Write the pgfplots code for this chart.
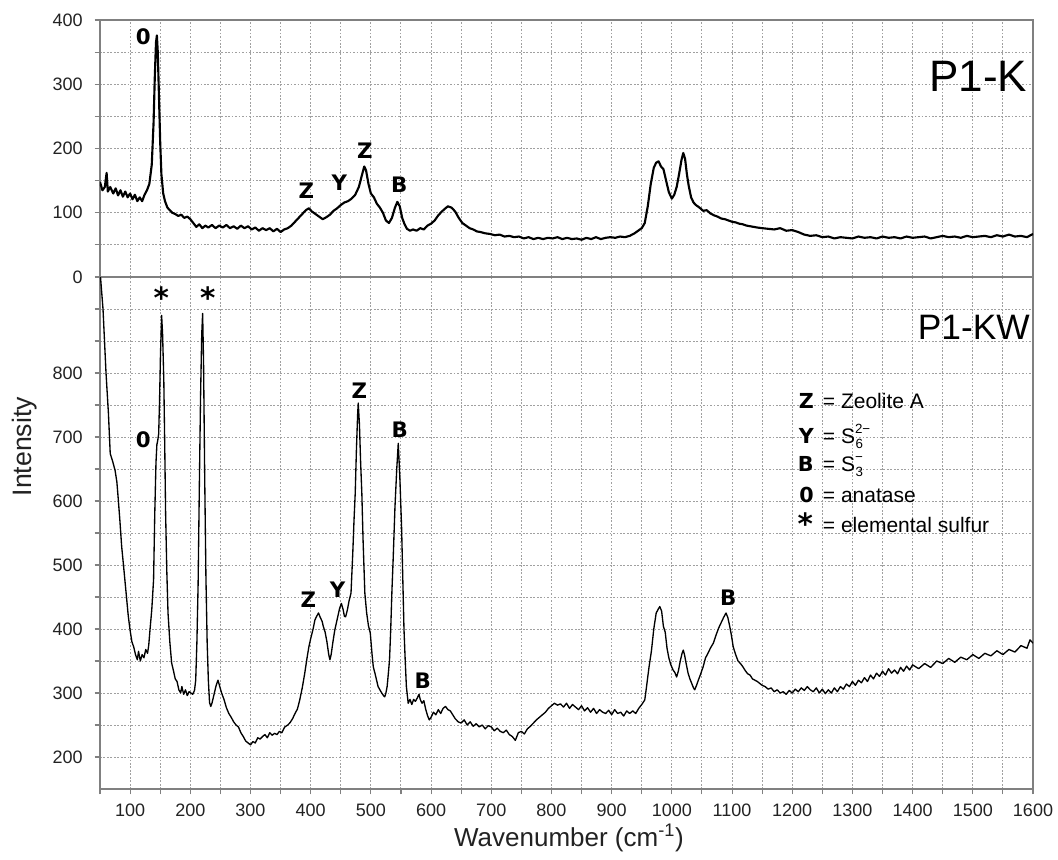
\documentclass[border=0pt]{standalone}
\usepackage{fontspec}
\setmainfont{Liberation Sans}
\newfontfamily\heavy{DejaVu Sans}
\usepackage{pgfplots}
\pgfplotsset{compat=1.18}
\definecolor{axgray}{HTML}{808080}
\definecolor{gridgray}{HTML}{A0A0A0}
\definecolor{txt}{HTML}{222222}

\pgfplotstableread{
x y
50 148
54 135
58 140
61 162
63 133
67 140
72 130
76 138
80 127
84 135
88 125
92 133
96 124
100 130
104 121
108 128
112 118
116 124
120 118
124 128
128 135
132 145
136 175
139 240
141 310
143 365
144.5 376
146 350
148 280
150 210
152 160
155 130
158 118
162 108
166 104
170 100
175 98
180 95
185 97
190 92
195 94
200 90
205 84
210 78
215 82
220 76
225 80
230 77
236 81
242 76
248 80
254 77
260 81
266 76
272 79
278 75
284 80
290 76
296 79
302 74
308 77
314 72
320 76
326 73
332 76
338 71
344 75
350 70
356 74
362 76
368 80
374 86
380 92
386 98
392 104
397 107
402 102
408 98
414 94
420 90
426 93
432 97
438 103
444 107
450 112
456 116
462 118
468 122
474 128
480 140
485 158
489 172
492 166
496 145
500 130
505 124
510 114
515 108
520 100
525 88
530 84
535 92
540 108
544 117
548 110
552 92
556 82
560 75
565 72
570 74
576 72
582 76
588 74
594 80
600 83
606 88
612 96
618 102
624 107
628 110
634 108
640 102
646 92
652 84
658 80
664 76
670 74
676 71
682 70
690 68
698 67
706 65
714 66
722 63
730 64
738 62
746 63
754 60
762 62
770 59
778 61
786 59
794 61
802 60
810 62
818 59
826 61
834 59
842 60
850 58
858 61
866 59
874 62
882 59
890 61
898 62
906 61
914 63
922 62
930 64
938 68
944 72
950 76
955 84
960 110
965 145
970 170
974 178
978 180
982 172
986 168
990 152
995 132
1000 122
1004 128
1008 140
1012 160
1016 182
1019 193
1022 184
1025 160
1028 142
1032 124
1036 116
1040 112
1046 108
1052 103
1058 104
1064 99
1070 96
1076 94
1082 91
1088 90
1094 88
1100 86
1106 85
1112 83
1118 82
1124 80
1130 79
1136 78
1142 77
1150 76
1160 75
1170 74
1180 76
1190 72
1200 73
1210 70
1220 66
1230 64
1240 65
1250 62
1260 63
1270 60
1280 62
1290 61
1300 60
1310 63
1320 61
1330 62
1340 60
1350 63
1360 61
1370 62
1380 60
1390 63
1400 61
1410 62
1420 63
1430 60
1440 62
1450 64
1460 62
1470 63
1480 61
1490 64
1500 62
1510 63
1520 64
1530 62
1540 65
1550 63
1560 66
1570 63
1580 64
1590 62
1600 67
}\datak

\pgfplotstableread{
x y
50 960
55 900
60 800
64 737
67 674
71 662
75 648
78 630
80 607
83 570
86 529
90 490
94 450
97 420
100 398
103 380
106 372
109 360
112 352
114 365
117 350
120 360
123 355
126 368
129 362
131 375
133 398
136 430
139 477
141 581
143 660
144.5 688
146 695
147.5 705
149 760
150.5 830
152.4 890
154 860
156 789
157.5 690
159 581
161 490
163 425
166 380
169 347
172 335
175 322
178 318
181 305
184 300
186 310
189 298
192 305
195 296
198 302
201 300
204 298
207 304
209 320
211 380
213 470
215 620
217 760
219 860
220.5 893
222 820
224 633
226 480
228 380
230 320
232 285
234 279
236 284
238 292
240 300
243 312
246 320
249 310
252 300
256 290
260 277
264 268
268 262
272 255
276 250
280 247
284 238
288 232
292 225
296 222
300 219
304 224
308 222
312 230
316 228
320 232
324 235
328 230
332 238
336 234
340 237
344 235
348 240
352 238
357 247
362 250
366 254
370 260
374 268
378 275
382 290
386 308
390 330
394 355
397 372
400 385
404 400
407 414
410 420
413 425
416 418
419 412
421 404
424 395
427 380
430 360
432 352
434 360
437 380
440 398
444 415
448 432
451 440
454 430
456 420
458 419
461 430
464 445
467 456
470 520
472 570
474 612
476 680
478 735
479 753
481 720
483 660
485 612
487 540
490 456
493 425
496 405
499 394
502 360
504 341
507 330
510 318
512 310
515 305
518 300
521 296
523 294
525 300
527 310
529 330
531 352
533 400
535 460
537 508
540 590
543 650
545.5 690
548 640
551 560
553 480
555 400
557 352
559 310
562 284
565 290
568 282
571 290
574 287
577 292
580 298
582 290
585 284
588 288
591 275
594 265
597 258
600 262
604 270
608 266
612 274
616 268
620 276
624 279
628 274
632 272
636 266
640 260
645 255
650 253
655 258
660 250
665 255
670 248
675 252
680 247
685 250
690 244
695 249
700 247
705 241
710 245
715 240
720 238
725 242
730 235
735 232
740 226
745 238
750 240
755 236
760 244
765 248
770 253
775 258
780 262
785 266
790 270
795 276
800 280
805 284
810 281
815 283
820 278
825 284
830 276
835 282
840 278
845 274
850 280
855 272
860 277
865 270
870 276
875 268
880 274
885 270
890 268
895 273
900 266
905 274
910 268
915 270
920 264
925 272
930 268
935 272
940 268
945 276
950 282
955 289
958 310
962 340
966 365
970 400
974 425
978 432
980 435
983 428
986 404
989 395
992 370
995 355
998 345
1002 336
1005 332
1008 325
1011 335
1014 350
1017 362
1019 367
1021 360
1024 345
1027 331
1030 322
1033 315
1036 308
1038 305
1041 312
1044 320
1048 330
1052 341
1056 355
1060 362
1064 370
1069 378
1074 392
1078 402
1082 410
1086 418
1090 425
1093 418
1096 405
1099 390
1102 372
1106 360
1110 350
1114 346
1118 341
1122 335
1126 330
1130 328
1134 322
1138 320
1142 318
1146 315
1150 312
1155 310
1160 306
1165 308
1170 302
1175 305
1180 300
1185 302
1190 298
1195 304
1200 300
1205 306
1210 302
1215 308
1220 304
1225 310
1230 305
1235 302
1240 308
1245 300
1250 306
1255 299
1260 305
1265 300
1270 308
1275 302
1280 310
1285 306
1290 314
1295 310
1300 318
1305 312
1310 320
1315 316
1320 324
1325 318
1330 328
1335 322
1340 331
1345 326
1350 334
1355 328
1360 338
1365 331
1370 336
1375 330
1380 340
1385 334
1390 342
1395 336
1400 344
1410 338
1420 346
1430 340
1440 350
1450 346
1460 354
1470 348
1480 356
1490 352
1500 360
1510 354
1520 362
1530 358
1540 366
1550 360
1560 368
1570 364
1580 374
1590 370
1595 383
1600 378
}\datakw

\pgfplotsset{
  spec/.style={
    scale only axis, width=699.75pt, xmin=50, xmax=1600,
    axis line style={axgray, line width=1.1pt},
    xtick={100,200,...,1600}, minor xtick={50,150,...,1550},
    grid=both,
    major grid style={gridgray, dash pattern=on 1.3pt off 1.3pt, line width=0.75pt},
    minor grid style={gridgray, dash pattern=on 1.3pt off 1.3pt, line width=0.75pt},
    tick align=outside, major tick length=4pt, minor tick length=4pt,
    tick style={axgray, line width=0.8pt},
    xtick pos=left, ytick pos=left,
    tick label style={font=\fontsize{13.5}{15}\selectfont, color=txt},
    /pgf/number format/assume math mode=true,
    /pgf/number format/1000 sep={},
    yticklabel style={xshift=-5.5pt},
    xticklabel style={yshift=-3.5pt},
  },
}
\tikzset{
  ann/.style={font=\fontsize{16}{18}\selectfont\heavy\bfseries, text=black, inner sep=0pt},
  star/.style={font=\fontsize{22}{26}\selectfont\heavy\bfseries, text=black, inner sep=0pt, anchor=north},
}
\newcommand{\sss}[2]{S\rlap{\hspace{0.5pt}\raisebox{-3.8pt}{\fontsize{10}{10}\selectfont #1}}\raisebox{7.2pt}{\fontsize{10}{10}\selectfont #2}}

\begin{document}
\begin{tikzpicture}
\useasboundingbox (0pt,0pt) rectangle (793.5pt,-645pt);
% top panel
\begin{axis}[spec, at={(75pt,-15pt)}, anchor=north west, height=192.75pt,
  ymin=0, ymax=400, ytick={0,100,...,400}, minor ytick={50,150,250,350},
  xticklabels={}, x tick style={draw=none}]
\addplot[black, line width=1.6pt, line join=round] table[x=x,y=y] {\datak};
\node[ann] at (axis cs:122,374) {0};
\node[ann] at (axis cs:393,135) {Z};
\node[ann] at (axis cs:447.5,146) {Y};
\node[ann] at (axis cs:490,197) {Z};
\node[ann] at (axis cs:547,143) {B};
\node[font=\fontsize{33}{36}\selectfont, text=black, anchor=base east, inner sep=0pt] at (axis cs:1591,288) {P1-K};
\end{axis}
% bottom panel
\begin{axis}[spec, at={(75pt,-207.75pt)}, anchor=north west, height=384pt,
  ymin=150, ymax=950, ytick={200,300,...,800}, minor ytick={250,350,...,850,900}]
\addplot[black, line width=1.0pt, line join=round] table[x=x,y=y] {\datakw};
\node[star] at (axis cs:152,935) {*};
\node[star] at (axis cs:229,935) {*};
\node[ann] at (axis cs:122,696) {0};
\node[ann] at (axis cs:396,446) {Z};
\node[ann] at (axis cs:444.7,461) {Y};
\node[ann] at (axis cs:481,772) {Z};
\node[ann] at (axis cs:548,711) {B};
\node[ann] at (axis cs:586,319) {B};
\node[ann] at (axis cs:1093.7,449.5) {B};
\node[font=\fontsize{26.5}{30}\selectfont, text=black, anchor=base east, inner sep=0pt] at (axis cs:1595,853) {P1-KW};
\end{axis}
% legend text
\begin{scope}[every node/.style={inner sep=0pt}]
\def\lf{\fontsize{15.75}{18}\selectfont}
\node[anchor=base east, font=\fontsize{15.5}{18}\selectfont\heavy\bfseries] at (610.5pt,-306pt) {Z};
\node[anchor=base west, font=\lf] at (617pt,-306pt) {= Zeolite A};
\node[anchor=base east, font=\fontsize{15.5}{18}\selectfont\heavy\bfseries] at (610.5pt,-332.25pt) {Y};
\node[anchor=base west, font=\lf] at (617pt,-332.25pt) {= \sss{6}{2−}};
\node[anchor=base east, font=\fontsize{15.5}{18}\selectfont\heavy\bfseries] at (610.5pt,-353.25pt) {B};
\node[anchor=base west, font=\lf] at (617pt,-353.25pt) {= \sss{3}{−}};
\node[anchor=base east, font=\fontsize{15.5}{18}\selectfont\heavy\bfseries] at (610.5pt,-376.5pt) {0};
\node[anchor=base west, font=\lf] at (617pt,-376.5pt) {= anatase};
\node[anchor=north, font=\fontsize{22}{26}\selectfont\heavy\bfseries] at (604pt,-384pt) {*};
\node[anchor=base west, font=\lf] at (617pt,-399pt) {= elemental sulfur};
\end{scope}
% axis labels
\node[font=\fontsize{20}{24}\selectfont, text=txt, rotate=90] at (18.75pt,-335pt) {Intensity};
\node[font=\fontsize{19.5}{24}\selectfont, text=txt] at (426.75pt,-628.5pt) {Wavenumber (cm\textsuperscript{-1})};
\end{tikzpicture}
\end{document}
